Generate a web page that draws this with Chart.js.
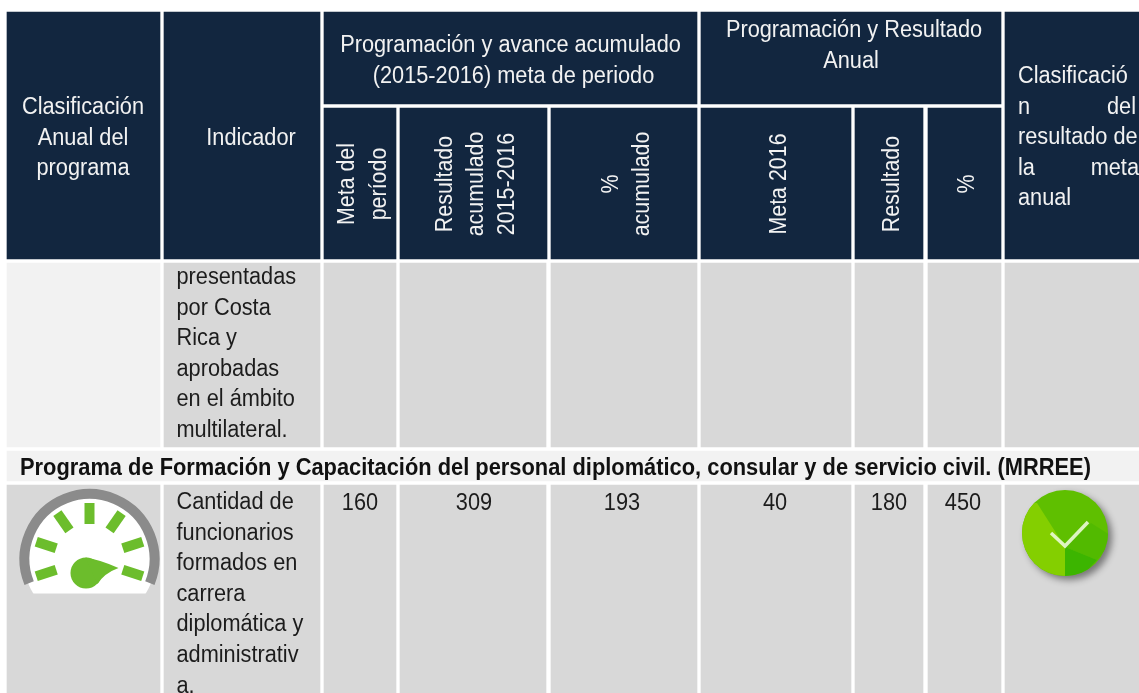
<!DOCTYPE html>
<html>
<head>
<meta charset="utf-8">
<title>Programa de Formación</title>
<script src="https://cdn.jsdelivr.net/npm/chart.js@4"></script>
<style>
    html, body { margin: 0; padding: 0; background: #fff; overflow: hidden; }
    canvas { display: block; }
</style>
</head>
<body>
<canvas id="tabla" width="1139" height="693"></canvas>
<script>
// table contents
const sectionTitle = 'Programa de Formación y Capacitación del personal diplomático, consular y de servicio civil. (MRREE)';
const groupHeaders = [['Programación y avance acumulado', '(2015-2016) meta de periodo'], ['Programación y Resultado', 'Anual']];
const sideHeaders = [['Clasificación', 'Anual del', 'programa'], ['Indicador']];
const rotatedHeaders = [['Meta del', 'período'], ['Resultado', 'acumulado', '2015-2016'], ['%', 'acumulado'], ['Meta 2016'], ['Resultado'], ['%']];
const firstRowText = ['presentadas', 'por Costa', 'Rica y', 'aprobadas', 'en el ámbito', 'multilateral.'];
const indicatorText = ['Cantidad de', 'funcionarios', 'formados en', 'carrera', 'diplomática y', 'administrativ', 'a.'];
const resultValues = [160, 309, 193, 40, 180, 450];

// table grid, in canvas units
const NAVY = '#12263f', GREY = '#d8d8d8', LIGHT = '#f2f2f2';
const sideCols = [[7, 160], [164, 320]];
const lastCol = [1005, 1139];
const groupCols = [[324, 697], [701, 1001]];
const dataCols = [[324, 396], [400, 547], [551, 697], [701, 851], [855, 923], [928, 1001]];
const bodyCols = [[164, 320], [324, 396], [400, 546], [551, 697], [701, 851], [855, 923], [928, 1001], [1005, 1139]];

function band(top, bottom, cols, colors) {
    const mid = (top + bottom) / 2;
    return {
        data: cols.map(c => ({ x: c, y: mid })),
        barThickness: bottom - top,
        backgroundColor: colors,
        grouped: false
    };
}

const FONT = '"Liberation Sans", Arial, sans-serif';
const SIZE = 23;
const LINE = 30.6;
const NARROW = 0.945;
const NARROW_BOLD = 0.95;
const NARROW_UP = 0.93;

const tablePlugin = {
    id: 'tablaText',
    afterDatasetsDraw(chart) {
        const ctx = chart.ctx;
        const px = v => chart.scales.x.getPixelForValue(v);
        const py = v => chart.scales.y.getPixelForValue(v);

        const put = (str, x, y, align, color, weight) => {
            ctx.save();
            ctx.translate(px(x), py(y));
            ctx.scale(weight ? NARROW_BOLD : NARROW, 1);
            ctx.font = (weight || '') + ' ' + SIZE + 'px ' + FONT;
            ctx.textAlign = align;
            ctx.textBaseline = 'alphabetic';
            ctx.fillStyle = color;
            ctx.fillText(str, 0, 0);
            ctx.restore();
        };
        const putUp = (str, x, midY) => {
            ctx.save();
            ctx.translate(px(x), py(midY));
            ctx.rotate(-Math.PI / 2);
            ctx.scale(NARROW_UP, 1);
            ctx.font = SIZE + 'px ' + FONT;
            ctx.textAlign = 'center';
            ctx.textBaseline = 'alphabetic';
            ctx.fillStyle = '#f2f2f2';
            ctx.fillText(str, 0, 0);
            ctx.restore();
        };

        // header text
        const WHITE = '#f2f2f2';
        sideHeaders[0].forEach((s, i) => put(s, 83, 114 + i * 30.5, 'center', WHITE));
        put(sideHeaders[1][0], 251, 145, 'center', WHITE);
        put(groupHeaders[0][0], 510.5, 52, 'center', WHITE);
        put(groupHeaders[0][1], 513.5, 82.5, 'center', WHITE);
        put(groupHeaders[1][0], 854, 37, 'center', WHITE);
        put(groupHeaders[1][1], 851, 67.5, 'center', WHITE);

        const rotatedX = [[354, 385.5], [452, 483, 514], [618, 649], [786], [898.5], [973.5]];
        rotatedHeaders.forEach((lines, c) => lines.forEach((s, i) => putUp(s, rotatedX[c][i], 184)));

        put('Clasificació', 1018, 83, 'left', WHITE);
        put('n', 1018, 114, 'left', WHITE);
        put('del', 1136, 114, 'right', WHITE);
        put('resultado de', 1018, 144, 'left', WHITE);
        put('la', 1018, 175, 'left', WHITE);
        put('meta', 1139, 175, 'right', WHITE);
        put('anual', 1018, 205, 'left', WHITE);

        // body text
        const INK = '#1c1c1c';
        firstRowText.forEach((s, i) => put(s, 176.5, 284 + i * LINE, 'left', INK));
        put(sectionTitle, 20, 475, 'left', '#111', 'bold');
        indicatorText.forEach((s, i) => put(s, 176.5, 509 + i * LINE, 'left', INK));
        const valueX = [360, 474, 622, 775, 889, 963];
        resultValues.forEach((v, i) => put(String(v), valueX[i], 510, 'center', INK));

        drawGauge(ctx, px(89.5), py(559));
        drawBadge(ctx, px(1065), py(533));
    }
};

function drawGauge(ctx, cx, cy) {
    ctx.save();
    // white dial, cut flat at the bottom
    ctx.save();
    ctx.beginPath();
    ctx.rect(cx - 80, cy - 80, 160, 114.5);
    ctx.clip();
    ctx.fillStyle = '#fff';
    ctx.beginPath();
    ctx.arc(cx, cy, 66, 0, Math.PI * 2);
    ctx.fill();
    ctx.restore();
    // grey ring
    ctx.strokeStyle = '#8b8b8b';
    ctx.lineWidth = 10;
    ctx.beginPath();
    ctx.arc(cx, cy, 65, Math.PI - 0.38, 0.38);
    ctx.stroke();
    // ticks
    ctx.fillStyle = '#6cbd2c';
    [-90, -55, -125, -18, -162, 18, 162].forEach(deg => {
        ctx.save();
        ctx.translate(cx, cy);
        ctx.rotate(deg * Math.PI / 180);
        ctx.fillRect(35, -5, 21, 10);
        ctx.restore();
    });
    // needle
    ctx.beginPath();
    ctx.arc(cx - 3.5, cy + 14, 15.5, 0, Math.PI * 2);
    ctx.fill();
    ctx.beginPath();
    ctx.moveTo(cx - 4, cy - 1.5);
    ctx.quadraticCurveTo(cx + 10, cy + 0.5, cx + 29, cy + 9);
    ctx.quadraticCurveTo(cx + 15, cy + 14, cx + 8, cy + 25);
    ctx.closePath();
    ctx.fill();
    ctx.restore();
}

function drawBadge(ctx, cx, cy) {
    const R = 43;
    ctx.save();
    ctx.shadowColor = 'rgba(0,0,0,0.45)';
    ctx.shadowBlur = 7;
    ctx.shadowOffsetX = 4;
    ctx.shadowOffsetY = 4;
    ctx.fillStyle = '#5fbf00';
    ctx.beginPath();
    ctx.arc(cx, cy, R, 0, Math.PI * 2);
    ctx.fill();
    ctx.restore();

    ctx.save();
    ctx.beginPath();
    ctx.arc(cx, cy, R, 0, Math.PI * 2);
    ctx.clip();
    // left facet
    ctx.fillStyle = '#84cf00';
    ctx.beginPath();
    ctx.moveTo(cx - 28, cy - 30);
    ctx.lineTo(cx, cy + 14);
    ctx.lineTo(cx, cy + 50);
    ctx.lineTo(cx - 60, cy + 50);
    ctx.lineTo(cx - 60, cy - 30);
    ctx.closePath();
    ctx.fill();
    // lower right facet
    ctx.fillStyle = '#52ba00';
    ctx.beginPath();
    ctx.moveTo(cx, cy + 14);
    ctx.lineTo(cx + 32, cy + 27);
    ctx.lineTo(cx + 50, cy + 5);
    ctx.lineTo(cx + 26, cy - 10);
    ctx.closePath();
    ctx.fill();
    ctx.fillStyle = '#3cb500';
    ctx.beginPath();
    ctx.moveTo(cx, cy + 14);
    ctx.lineTo(cx + 32, cy + 27);
    ctx.lineTo(cx + 10, cy + 50);
    ctx.lineTo(cx, cy + 50);
    ctx.closePath();
    ctx.fill();
    ctx.restore();

    // tick mark
    ctx.strokeStyle = 'rgba(235,250,215,0.9)';
    ctx.lineWidth = 3.5;
    ctx.beginPath();
    ctx.moveTo(cx - 14, cy);
    ctx.lineTo(cx, cy + 13);
    ctx.lineTo(cx + 23, cy - 11);
    ctx.stroke();
}

const datasets = [
    band(12, 259, [...sideCols, lastCol], NAVY),
    band(12, 104, groupCols, NAVY),
    band(108, 259, dataCols, NAVY),
    band(263, 447, [sideCols[0]], LIGHT),
    band(263, 447, bodyCols, GREY),
    band(451, 481, [[7, 1139]], LIGHT),
    band(485, 693, [sideCols[0], ...bodyCols], GREY)
];

new Chart(document.getElementById('tabla').getContext('2d'), {
    type: 'bar',
    data: { datasets },
    options: {
        indexAxis: 'y',
        responsive: false,
        animation: false,
        events: [],
        layout: { padding: 0 },
        plugins: { legend: { display: false }, tooltip: { enabled: false } },
        scales: {
            x: { type: 'linear', min: 0, max: 1139, display: false },
            y: { type: 'linear', min: 0, max: 693, reverse: true, offset: false, display: false }
        }
    },
    plugins: [tablePlugin]
});
</script>
</body>
</html>
